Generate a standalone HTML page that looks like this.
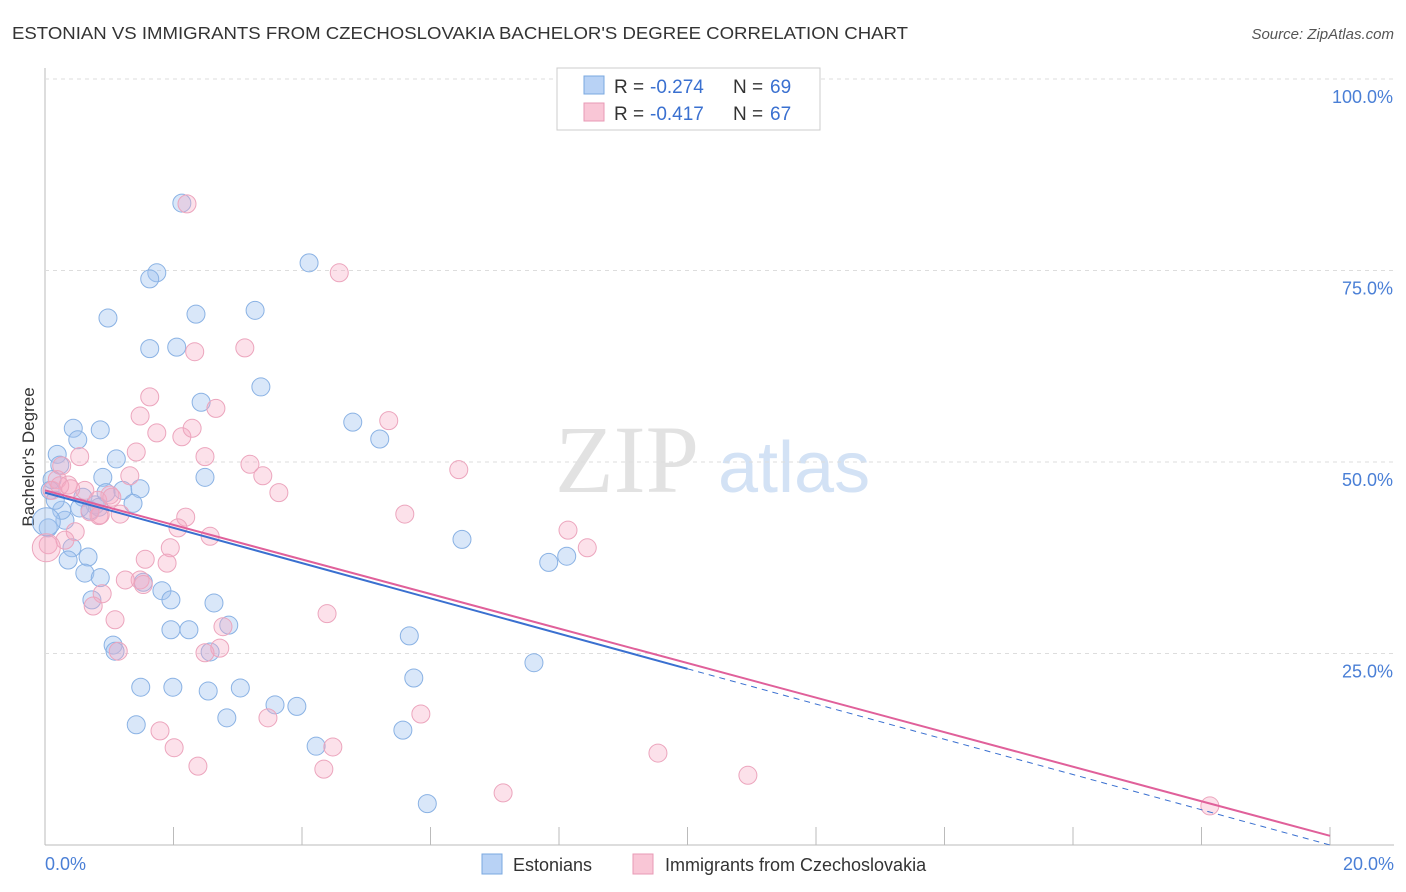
<!DOCTYPE html>
<html><head><meta charset="utf-8"><style>
body{margin:0;background:#fff;font-family:"Liberation Sans",sans-serif}
#c{position:absolute;left:0;top:0}
</style></head><body>
<svg id="c" width="1406" height="892" xmlns="http://www.w3.org/2000/svg">
<text x="12" y="39" font-size="17.5" fill="#333" textLength="896" lengthAdjust="spacingAndGlyphs">ESTONIAN VS IMMIGRANTS FROM CZECHOSLOVAKIA BACHELOR'S DEGREE CORRELATION CHART</text>
<text x="1394" y="39" font-size="15" fill="#555" font-style="italic" text-anchor="end">Source: ZipAtlas.com</text>
<text x="555" y="492" font-size="96" fill="#e2e2e2" font-family="Liberation Serif">ZIP</text>
<text x="718" y="492" font-size="72" fill="#d3e2f5">atlas</text>
<text transform="translate(34,457) rotate(-90)" font-size="17" fill="#333" text-anchor="middle">Bachelor's Degree</text>
<g id="grid"></g><g id="pts"></g><g id="lines"></g>
<g>
<rect x="557" y="68" width="263" height="62" fill="#fff" stroke="#ccc"/>
<rect x="584" y="76" width="20" height="18" fill="#b8d2f5" stroke="#7aa8e0"/>
<rect x="584" y="103" width="20" height="18" fill="#f9c6d6" stroke="#e89ab5"/>
<text x="614" y="93" font-size="19" fill="#333">R = </text>
<text x="650" y="93" font-size="19" fill="#3a70d0">-0.274</text>
<text x="733" y="93" font-size="19" fill="#333">N = </text>
<text x="770" y="93" font-size="19" fill="#3a70d0">69</text>
<text x="614" y="120" font-size="19" fill="#333">R = </text>
<text x="650" y="120" font-size="19" fill="#3a70d0">-0.417</text>
<text x="733" y="120" font-size="19" fill="#333">N = </text>
<text x="770" y="120" font-size="19" fill="#3a70d0">67</text>
</g>
<g>
<rect x="482" y="854" width="20" height="20" fill="#b8d2f5" stroke="#7aa8e0"/>
<text x="513" y="871" font-size="18" fill="#333">Estonians</text>
<rect x="633" y="854" width="20" height="20" fill="#f9c6d6" stroke="#e89ab5"/>
<text x="665" y="871" font-size="18" fill="#333">Immigrants from Czechoslovakia</text>
</g>
</svg>
<script>
const xTicks=[0,2,4,6,8,10,12,14,16,18,20];
const yTicks=[25,50,75,100];
const yTickLabels=["25.0%","50.0%","75.0%","100.0%"];
const blueX=[2.13,4.11,1.74,1.63,0.98,2.35,3.27,1.63,2.05,3.36,2.43,4.79,5.21,0.44,0.86,0.51,0.19,1.11,0.23,0.90,0.11,1.21,1.48,1.37,0.59,0.78,0.54,0.31,0.42,0.36,0.67,0.62,0.86,1.53,1.82,1.96,2.63,0.73,2.86,1.96,2.24,5.67,1.06,1.09,2.57,7.61,5.74,1.49,1.99,2.54,3.04,3.58,3.92,2.83,1.42,5.57,4.22,5.95,6.49,7.84,8.12,2.49,0.05,0.08,0.26,0.70,0.95,0.16,0.84];
const blueY=[83.8,76.0,74.7,73.9,68.8,69.3,69.8,64.8,65.0,59.8,57.8,55.2,53.0,54.4,54.2,52.9,51.0,50.4,49.6,48.0,47.7,46.3,46.5,44.6,45.4,44.4,44.0,42.4,38.8,37.2,37.6,35.5,34.9,34.3,33.2,32.0,31.6,32.0,28.7,28.1,28.1,27.3,26.1,25.3,25.2,23.8,21.8,20.6,20.6,20.1,20.5,18.3,18.1,16.6,15.7,15.0,12.9,5.4,39.9,36.9,37.7,48.0,41.4,46.3,43.7,43.7,46.0,45.0,44.1];
const pinkX=[2.21,4.58,2.33,3.11,1.63,1.48,2.66,5.35,1.74,2.13,2.29,2.49,3.19,3.39,1.42,0.54,1.32,0.26,6.44,3.64,1.01,0.82,0.19,0.36,1.17,0.86,2.19,2.07,5.60,8.14,8.44,2.57,0.47,1.95,1.56,1.90,1.48,1.25,0.89,0.75,1.09,4.39,2.77,2.72,1.14,2.49,5.85,3.47,1.79,2.01,2.38,4.48,4.34,7.13,9.54,10.94,18.13,0.05,0.11,0.23,0.62,1.04,0.70,0.84,0.31,1.53,0.40];
const pinkY=[83.7,74.7,64.4,64.9,58.5,56.0,57.0,55.4,53.8,53.3,54.4,50.7,49.7,48.2,51.3,50.7,48.2,49.5,49.0,46.0,45.7,45.0,47.7,47.0,43.2,43.1,42.8,41.4,43.2,41.1,38.8,40.3,40.9,38.8,37.3,36.8,34.6,34.6,32.8,31.2,29.4,30.2,28.5,25.7,25.3,25.1,17.1,16.6,14.9,12.7,10.3,12.8,9.9,6.8,12.0,9.1,5.1,39.2,46.3,46.9,46.3,45.4,43.5,43.0,39.8,34.0,46.5];
const blueFit=[46.0,-2.3];
const pinkFit=[46.3,-2.255];
const NS="http://www.w3.org/2000/svg";
const X=v=>45+v*64.25, Y=v=>845-v*7.66;
function mk(t,a,p){const e=document.createElementNS(NS,t);for(const k in a)e.setAttribute(k,a[k]);p.appendChild(e);return e;}
const grid=document.getElementById('grid');
mk('line',{x1:45,y1:68,x2:45,y2:845,stroke:'#bbb'},grid);
mk('line',{x1:45,y1:845,x2:1394,y2:845,stroke:'#bbb'},grid);
yTicks.forEach((t,i)=>{
 const l=mk('line',{x1:45,y1:Y(t),x2:1394,y2:Y(t),stroke:'#ddd','stroke-dasharray':'4,4'},grid);
 
 
 const tx=mk('text',{x:1393,y:Y(t)+24,'font-size':18,fill:'#4a7fd6','text-anchor':'end'},grid);
 tx.textContent=yTickLabels[i];
 
 
});
xTicks.forEach(t=>{
 const l=mk('line',{x1:X(t),y1:827,x2:X(t),y2:845,stroke:'#bbb'},grid);
 
 
});
[[0,"0.0%",'start',45],[20,"20.0%",'end',1394]].forEach(a=>{
 const tx=mk('text',{x:a[3],y:870,'font-size':18,fill:'#4a7fd6','text-anchor':a[2]},grid);
 tx.textContent=a[1];
 
 
});
const pts=document.getElementById('pts');
function series(xs,ys,fill,stroke,name){
 xs.forEach((x,i)=>{
  const c=mk('circle',{cx:X(x),cy:Y(ys[i]),r:9,fill:fill,stroke:stroke,'stroke-width':1},pts);
  
  
 });
}
series(blueX,blueY,'rgba(160,195,240,0.4)','#8ab2e4','estonian-point');
series(pinkX,pinkY,'rgba(245,170,195,0.35)','#eca5bd','czech-point');
const big1=mk('circle',{cx:X(0.02),cy:Y(42.2),r:14,fill:'rgba(160,195,240,0.4)',stroke:'#8ab2e4'},pts);


const big2=mk('circle',{cx:X(0.02),cy:Y(38.8),r:14,fill:'rgba(245,170,195,0.35)',stroke:'#eca5bd'},pts);


const lines=document.getElementById('lines');
const b1=mk('line',{x1:X(0),y1:Y(blueFit[0]),x2:X(10),y2:Y(blueFit[0]+blueFit[1]*10),stroke:'#3a70d0','stroke-width':2},lines);


const b2=mk('line',{x1:X(10),y1:Y(blueFit[0]+blueFit[1]*10),x2:X(20),y2:Y(blueFit[0]+blueFit[1]*20),stroke:'#3a70d0','stroke-width':1,'stroke-dasharray':'6,5'},lines);


const p1=mk('line',{x1:X(0),y1:Y(pinkFit[0]),x2:X(20),y2:Y(pinkFit[0]+pinkFit[1]*20),stroke:'#e0609a','stroke-width':2},lines);


</script>
</body></html>
